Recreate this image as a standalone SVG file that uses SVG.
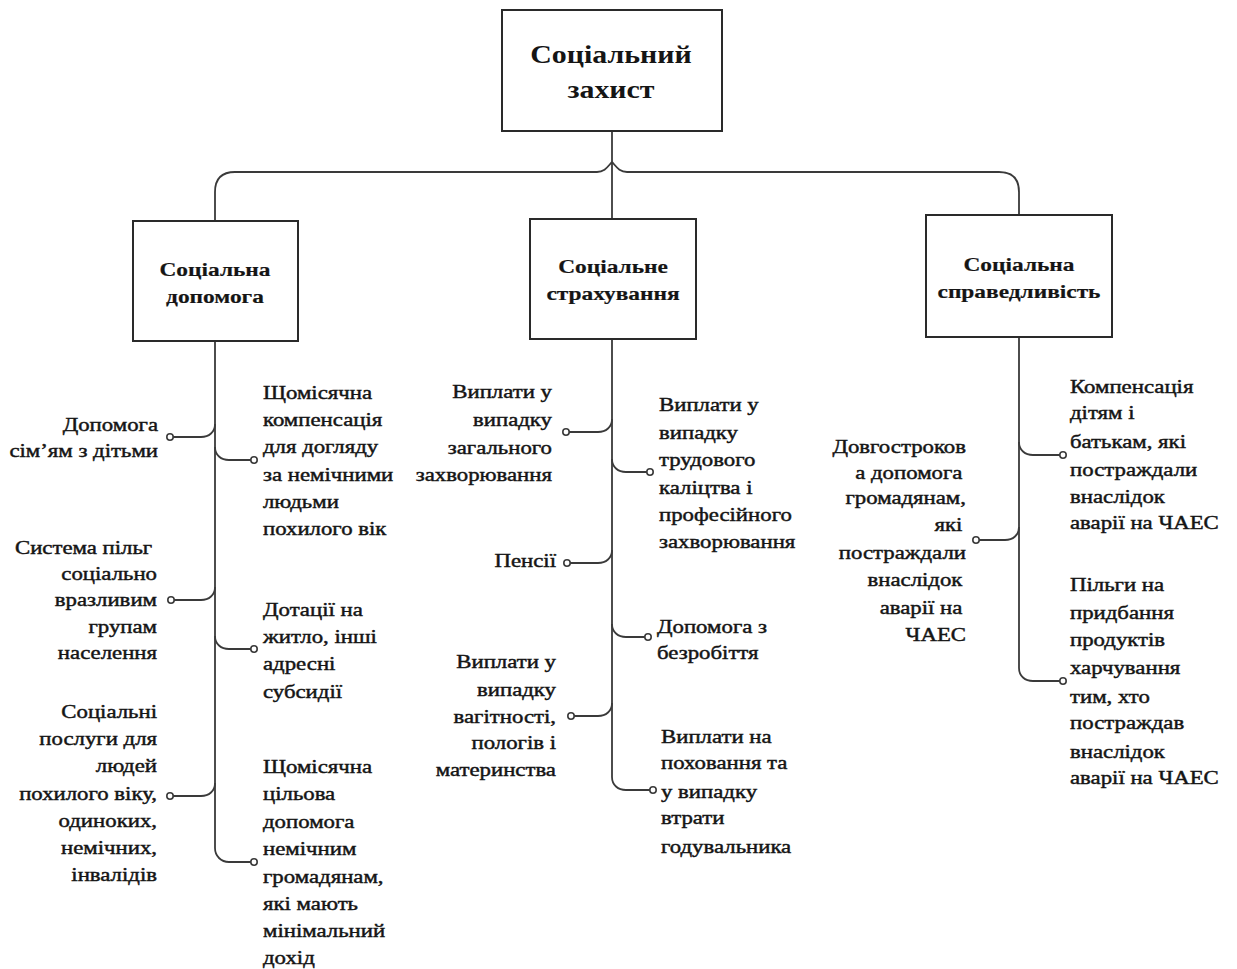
<svg xmlns="http://www.w3.org/2000/svg" width="1237" height="969" viewBox="0 0 1237 969">
<style>
text{font-family:"Liberation Serif","Times New Roman",serif;fill:#151515}
.lf{font-size:19px;stroke:#151515;stroke-width:0.45}
.bx{font-size:19.5px;font-weight:bold;stroke:#151515;stroke-width:0.2}
.tp{font-size:26px;font-weight:bold}
.e{text-anchor:end}
.m{text-anchor:middle}
.box{fill:#fff;stroke:#2a2a2a;stroke-width:2}
.cn path{fill:none;stroke:#3a3a3a;stroke-width:1.8}
.dot{fill:#fff;stroke:#3a3a3a;stroke-width:1.6}
</style>
<rect width="1237" height="969" fill="#fff"/>
<g class="cn" id="connectors">
<path d="M612,131 V219"/>
<path d="M612,162 C608,166 605,172 597,172 H235 Q215,172 215,192 V221"/>
<path d="M612,162 C616,166 619,172 627,172 H999 Q1019,172 1019,192 V215"/>
<path d="M215,341 V848 C215,856 221,862 229,862 H251"/>
<path d="M173,437 H201 C209,437 215,432 215,424"/>
<path d="M174,600 H201 C209,600 215,595 215,587"/>
<path d="M173,796 H201 C209,796 215,791 215,783"/>
<path d="M215,447 C215,455 221,460 229,460 H251"/>
<path d="M215,636 C215,644 221,649 229,649 H251"/>
<path d="M612,339 V777 C612,785 618,790 626,790 H650"/>
<path d="M569,432 H598 C606,432 612,427 612,419"/>
<path d="M570,563 H598 C606,563 612,558 612,550"/>
<path d="M574,716 H598 C606,716 612,711 612,703"/>
<path d="M612,459 C612,467 618,472 626,472 H647"/>
<path d="M612,624 C612,632 618,637 626,637 H645"/>
<path d="M1019,337 V668 C1019,676 1025,681 1033,681 H1060"/>
<path d="M979,540 H1005 C1013,540 1019,535 1019,527"/>
<path d="M1019,442 C1019,450 1025,455 1033,455 H1060"/>
</g>
<g id="n-root">
<rect class="box" x="502" y="10" width="220" height="121"/>
<g transform="translate(611,0) scale(1.15,1)"><text class="tp m" x="0" y="63">Соціальний</text><text class="tp m" x="0" y="98">захист</text></g>
</g>
<g id="n-dopomoga">
<rect class="box" x="133" y="221" width="165" height="120"/>
<g transform="translate(215,0) scale(1.2,1)"><text class="bx m" x="0" y="276">Соціальна</text><text class="bx m" x="0" y="303">допомога</text></g>
</g>
<g id="n-strakh">
<rect class="box" x="530" y="219" width="166" height="120"/>
<g transform="translate(613,0) scale(1.2,1)"><text class="bx m" x="0" y="273">Соціальне</text><text class="bx m" x="0" y="300">страхування</text></g>
</g>
<g id="n-sprav">
<rect class="box" x="926" y="215" width="186" height="122"/>
<g transform="translate(1019,0) scale(1.2,1)"><text class="bx m" x="0" y="271">Соціальна</text><text class="bx m" x="0" y="298">справедливість</text></g>
</g>
<g id="n-a1">
<circle class="dot" cx="170" cy="437" r="3.2"/>
<g transform="translate(158,0) scale(1.2,1)"><text class="lf e"><tspan x="0" y="431">Допомога</tspan><tspan x="0" y="457">сім’ям з дітьми</tspan></text></g>
</g>
<g id="n-a2">
<circle class="dot" cx="171" cy="600" r="3.2"/>
<g transform="translate(157,0) scale(1.2,1)"><text class="lf e"><tspan x="-4" y="554">Система пільг</tspan><tspan x="0" y="580">соціально</tspan><tspan x="0" y="606">вразливим</tspan><tspan x="0" y="633">групам</tspan><tspan x="0" y="659">населення</tspan></text></g>
</g>
<g id="n-a3">
<circle class="dot" cx="170" cy="796" r="3.2"/>
<g transform="translate(157,0) scale(1.2,1)"><text class="lf e"><tspan x="0" y="718">Соціальні</tspan><tspan x="0" y="745">послуги для</tspan><tspan x="0" y="772">людей</tspan><tspan x="0" y="800">похилого віку,</tspan><tspan x="0" y="827">одиноких,</tspan><tspan x="0" y="854">немічних,</tspan><tspan x="0" y="881">інвалідів</tspan></text></g>
</g>
<g id="n-b1">
<circle class="dot" cx="254" cy="460" r="3.2"/>
<g transform="translate(263,0) scale(1.2,1)"><text class="lf"><tspan x="0" y="399">Щомісячна</tspan><tspan x="0" y="426">компенсація</tspan><tspan x="0" y="453">для догляду</tspan><tspan x="0" y="481">за немічними</tspan><tspan x="0" y="508">людьми</tspan><tspan x="0" y="535">похилого вік</tspan></text></g>
</g>
<g id="n-b2">
<circle class="dot" cx="254" cy="649" r="3.2"/>
<g transform="translate(263,0) scale(1.2,1)"><text class="lf"><tspan x="0" y="616">Дотації на</tspan><tspan x="0" y="643">житло, інші</tspan><tspan x="0" y="670">адресні</tspan><tspan x="0" y="698">субсидії</tspan></text></g>
</g>
<g id="n-b3">
<circle class="dot" cx="254" cy="862" r="3.2"/>
<g transform="translate(263,0) scale(1.2,1)"><text class="lf"><tspan x="0" y="773">Щомісячна</tspan><tspan x="0" y="800">цільова</tspan><tspan x="0" y="828">допомога</tspan><tspan x="0" y="855">немічним</tspan><tspan x="0" y="883">громадянам,</tspan><tspan x="0" y="910">які мають</tspan><tspan x="0" y="937">мінімальний</tspan><tspan x="0" y="964">дохід</tspan></text></g>
</g>
<g id="n-c1">
<circle class="dot" cx="566" cy="432" r="3.2"/>
<g transform="translate(552,0) scale(1.2,1)"><text class="lf e"><tspan x="0" y="398">Виплати у</tspan><tspan x="0" y="426">випадку</tspan><tspan x="0" y="454">загального</tspan><tspan x="0" y="481">захворювання</tspan></text></g>
</g>
<g id="n-c2">
<circle class="dot" cx="567" cy="563" r="3.2"/>
<g transform="translate(556,0) scale(1.2,1)"><text class="lf e" x="0" y="567">Пенсії</text></g>
</g>
<g id="n-c3">
<circle class="dot" cx="571" cy="716" r="3.2"/>
<g transform="translate(556,0) scale(1.2,1)"><text class="lf e"><tspan x="0" y="668">Виплати у</tspan><tspan x="0" y="696">випадку</tspan><tspan x="0" y="723">вагітності,</tspan><tspan x="0" y="749">пологів і</tspan><tspan x="0" y="776">материнства</tspan></text></g>
</g>
<g id="n-d1">
<circle class="dot" cx="650" cy="472" r="3.2"/>
<g transform="translate(659,0) scale(1.2,1)"><text class="lf"><tspan x="0" y="411">Виплати у</tspan><tspan x="0" y="439">випадку</tspan><tspan x="0" y="466">трудового</tspan><tspan x="0" y="494">каліцтва і</tspan><tspan x="0" y="521">професійного</tspan><tspan x="0" y="548">захворювання</tspan></text></g>
</g>
<g id="n-d2">
<circle class="dot" cx="648" cy="637" r="3.2"/>
<g transform="translate(657,0) scale(1.2,1)"><text class="lf"><tspan x="0" y="633">Допомога з</tspan><tspan x="0" y="659">безробіття</tspan></text></g>
</g>
<g id="n-d3">
<circle class="dot" cx="653" cy="790" r="3.2"/>
<g transform="translate(661,0) scale(1.2,1)"><text class="lf"><tspan x="0" y="743">Виплати на</tspan><tspan x="0" y="769">поховання та</tspan><tspan x="0" y="798">у випадку</tspan><tspan x="0" y="824">втрати</tspan><tspan x="0" y="853">годувальника</tspan></text></g>
</g>
<g id="n-e1">
<circle class="dot" cx="976" cy="540" r="3.2"/>
<g transform="translate(966,0) scale(1.2,1)"><text class="lf e"><tspan x="0" y="453">Довгостроков</tspan><tspan x="-3" y="479">а допомога</tspan><tspan x="0" y="504">громадянам,</tspan><tspan x="-3" y="531">які</tspan><tspan x="0" y="559">постраждали</tspan><tspan x="-3" y="586">внаслідок</tspan><tspan x="-3" y="614">аварії на</tspan><tspan x="0" y="641">ЧАЕС</tspan></text></g>
</g>
<g id="n-f1">
<circle class="dot" cx="1063" cy="455" r="3.2"/>
<g transform="translate(1070,0) scale(1.2,1)"><text class="lf"><tspan x="0" y="393">Компенсація</tspan><tspan x="0" y="419">дітям і</tspan><tspan x="0" y="448">батькам, які</tspan><tspan x="0" y="476">постраждали</tspan><tspan x="0" y="503">внаслідок</tspan><tspan x="0" y="529">аварії на ЧАЕС</tspan></text></g>
</g>
<g id="n-f2">
<circle class="dot" cx="1063" cy="681" r="3.2"/>
<g transform="translate(1070,0) scale(1.2,1)"><text class="lf"><tspan x="0" y="591">Пільги на</tspan><tspan x="0" y="619">придбання</tspan><tspan x="0" y="646">продуктів</tspan><tspan x="0" y="674">харчування</tspan><tspan x="0" y="703">тим, хто</tspan><tspan x="0" y="729">постраждав</tspan><tspan x="0" y="758">внаслідок</tspan><tspan x="0" y="784">аварії на ЧАЕС</tspan></text></g>
</g>
</svg>
